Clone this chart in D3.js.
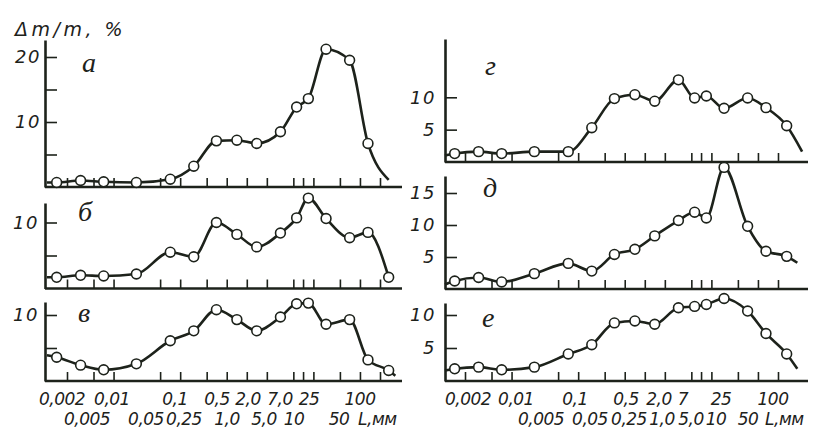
<!DOCTYPE html>
<html><head><meta charset="utf-8">
<script src="https://cdn.jsdelivr.net/npm/d3@7"></script>
<style>
html,body{margin:0;padding:0;background:#fff;}
svg{display:block;}
text{font-family:"DejaVu Sans","Noto Sans",sans-serif;font-style:italic;fill:#1d221b;}
</style></head>
<body>
<svg id="chart" width="833" height="442"></svg>
<script>
// ---------- data ----------
// particle size fractions (geometric midpoints, mm)
const categories = [0.0014, 0.0032, 0.0071, 0.022, 0.071, 0.16, 0.35, 0.71, 1.41, 3.2, 5.6, 8.4, 15.5, 35, 66, 135];
const tickValues = [0.002, 0.005, 0.01, 0.05, 0.1, 0.25, 0.5, 1, 2, 5, 7, 10, 25, 50, 100];
const topRowValues = [0.002, 0.01, 0.1, 0.5, 2, 7, 25, 100];
const topRowLabelsLeft = ["0,002", "0,01", "0,1", "0,5", "2,0", "7,0", "25", "100"];
const topRowLabelsRight = ["0,002", "0,01", "0,1", "0,5", "2,0", "7", "25", "100"];
const bottomRowValues = [0.005, 0.05, 0.25, 1, 5, 10, 50];
const bottomRowLabels = ["0,005", "0,05", "0,25", "1,0", "5,0", "10", "50"];
const unitLabel = "L,мм";
const yTitle = "Δm/m, %";

const panelNames = ["а", "б", "в", "г", "д", "е"];
const seriesA = [0.7, 1.0, 0.8, 0.7, 1.2, 3.2, 7.1, 7.2, 6.7, 8.5, 12.3, 13.6, 21.2, 19.5, 6.7, 1.1];
const seriesB = [1.7, 2.0, 1.9, 2.2, 5.5, 4.8, 10.0, 8.2, 6.3, 8.4, 10.7, 13.7, 10.6, 7.7, 8.5, 1.7];
const seriesV = [3.6, 2.4, 1.7, 2.6, 6.1, 7.6, 10.8, 9.3, 7.6, 9.7, 11.7, 11.8, 8.6, 9.3, 3.2, 1.6];
const seriesG = [1.3, 1.6, 1.3, 1.6, 1.6, 5.3, 9.8, 10.4, 9.4, 12.7, 9.9, 10.2, 8.3, 9.9, 8.4, 5.6];
const seriesD = [1.25, 1.8, 1.1, 2.4, 4.0, 2.8, 5.4, 6.2, 8.3, 10.7, 12.0, 11.1, 19.0, 9.8, 5.9, 5.1];
const seriesE = [1.85, 2.1, 1.7, 2.1, 4.1, 5.5, 8.8, 9.1, 8.6, 11.1, 11.3, 11.6, 12.5, 10.6, 7.2, 4.1];
// value where each curve starts at the y axis, and where it ends past the last point
const leadX = 0.001;
const leadValues = [0.7, 1.7, 3.9, 1.0, 0.7, 1.6];
const tailX = [null, null, 170, 230, 195, 195];
const tailValues = [null, null, 0.8, 1.6, 4.1, 1.85];
const hiddenMarker = [15, null, null, null, null, null];
const yTickSets = [[5, 10, 15, 20], [5, 10], [5, 10], [5, 10], [5, 10, 15], [5, 10]];
const yLabelSets = [[10, 20], [10], [10], [5, 10], [5, 10, 15], [5, 10]];
const allSeries = [seriesA, seriesB, seriesV, seriesG, seriesD, seriesE];

// ---------- layout ----------
const ink = "#1d221b";
const svg = d3.select("#chart");
// label rows are set like the print: squeezed, not centred on the ticks
const columns = [
  {x: d3.scaleLog().domain([0.002, 100]).range([67, 380]), ax0: 45, ax1: 402,
   lt: d3.scaleLog().domain(topRowValues).range([62, 112, 175, 217, 248, 280, 309, 360]),
   lb: d3.scaleLog().domain(bottomRowValues).range([87, 146, 184, 227, 264, 294, 339]),
   unitX: 358, topLabels: topRowLabelsLeft},
  {x: d3.scaleLog().domain([0.002, 100]).range([465, 778]), ax0: 445, ax1: 808,
   lt: d3.scaleLog().domain(topRowValues).range([468, 516, 575, 626, 659, 683, 721, 773]),
   lb: d3.scaleLog().domain(bottomRowValues).range([541, 590, 629, 662, 691, 716, 748]),
   unitX: 765, topLabels: topRowLabelsRight}
];
const panels = [
  {col: 0, y0: 187, top: 40, ppu: 6.5, lx: 82, ly: 72, pad: 4},
  {col: 0, y0: 288.5, top: 203, ppu: 6.6, lx: 78, ly: 221, pad: 6},
  {col: 0, y0: 381, top: 302, ppu: 6.6, lx: 78, ly: 322, pad: 6},
  {col: 1, y0: 162, top: 39, ppu: 6.47, lx: 485, ly: 75, pad: 9},
  {col: 1, y0: 289, top: 176, ppu: 6.4, lx: 483, ly: 197, pad: 9},
  {col: 1, y0: 381, top: 303, ppu: 6.6, lx: 482, ly: 327, pad: 9}
];

panels.forEach((p, i) => {
  const c = columns[p.col];
  const x = c.x;
  const y = d3.scaleLinear().domain([0, (p.y0 - p.top) / p.ppu]).range([p.y0, p.top]);
  const g = svg.append("g");

  // x axis ticks (pointing up)
  const xa = g.append("g").attr("transform", `translate(0,${p.y0})`)
    .call(d3.axisBottom(x).tickValues(tickValues).tickSize(-9).tickFormat(""));
  xa.select(".domain").remove();
  xa.selectAll("line").attr("stroke", ink).attr("stroke-width", 1.6);
  g.append("line").attr("x1", c.ax0).attr("x2", c.ax1).attr("y1", p.y0).attr("y2", p.y0)
    .attr("stroke", ink).attr("stroke-width", 2.6);

  // y axis
  const labels = yLabelSets[i];
  const ya = g.append("g").attr("transform", `translate(${c.ax0},0)`)
    .call(d3.axisLeft(y).tickValues(yTickSets[i]).tickSize(-12).tickSizeOuter(0)
      .tickPadding(p.pad).tickFormat(d => labels.includes(d) ? String(d) : ""));
  ya.select(".domain").attr("stroke", ink).attr("stroke-width", 2.6);
  ya.selectAll("line").attr("stroke", ink).attr("stroke-width", 1.6);
  ya.selectAll("text").attr("font-size", 18).attr("letter-spacing", 1.5)
    .style("font-family", '"DejaVu Sans",sans-serif').style("font-style", "italic").attr("fill", ink);

  // curve
  const vals = allSeries[i];
  const pts = [[leadX, leadValues[i]]].concat(categories.map((cx, k) => [cx, vals[k]]));
  if (tailX[i] !== null) pts.push([tailX[i], tailValues[i]]);
  g.append("path").datum(pts)
    .attr("d", d3.line().x(d => x(d[0])).y(d => y(d[1])).curve(d3.curveMonotoneX))
    .attr("fill", "none").attr("stroke", ink).attr("stroke-width", 2.6).attr("stroke-linejoin", "round");

  g.selectAll("circle").data(categories.map((cx, k) => ({cx, v: vals[k], k})).filter(d => d.k !== hiddenMarker[i]))
    .join("circle")
    .attr("cx", d => x(d.cx)).attr("cy", d => y(d.v)).attr("r", 4.9)
    .attr("fill", "#fff").attr("stroke", ink).attr("stroke-width", 1.6);

  // panel letter
  g.append("text").attr("x", p.lx).attr("y", p.ly).text(panelNames[i])
    .attr("font-size", 28).style("font-family", '"Liberation Serif","DejaVu Serif",serif');
});

// x tick label rows under bottom panels
columns.forEach(c => {
  const g = svg.append("g").attr("font-size", 17).attr("letter-spacing", -0.5);
  g.selectAll("text.t").data(topRowValues).join("text").attr("class", "t")
    .attr("x", d => c.lt(d)).attr("y", 405).attr("text-anchor", "middle")
    .text((d, k) => c.topLabels[k]);
  g.selectAll("text.b").data(bottomRowValues).join("text").attr("class", "b")
    .attr("x", d => c.lb(d)).attr("y", 425).attr("text-anchor", "middle")
    .text((d, k) => bottomRowLabels[k]);
  g.append("text").attr("x", c.unitX).attr("y", 425).text(unitLabel);
});

// y title
svg.append("text").attr("x", 15).attr("y", 36).attr("font-size", 19).attr("letter-spacing", 3.5).text(yTitle);
</script>
</body></html>
